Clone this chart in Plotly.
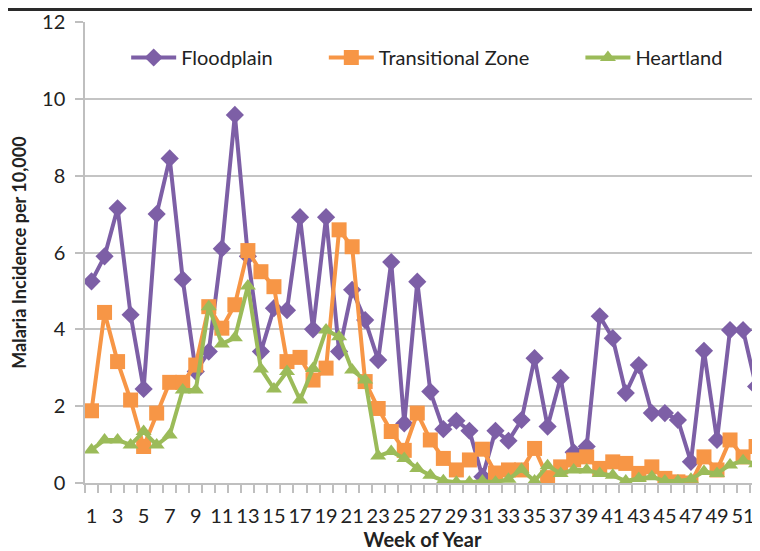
import plotly.graph_objects as go

weeks = list(range(1, 53))
week_labels = [str(w) for w in range(1, 53, 2)]
week_label_vals = list(range(1, 53, 2))

floodplain = [5.25, 5.9, 7.15, 4.38, 2.45, 7.0, 8.45, 5.3, 2.9, 3.42,
              6.1, 9.58, 5.9, 3.42, 4.55, 4.5, 6.92, 4.0, 6.92, 3.42,
              5.03, 4.24, 3.2, 5.75, 1.55, 5.24, 2.38, 1.4, 1.62, 1.36,
              0.16, 1.36, 1.1, 1.64, 3.25, 1.47, 2.74, 0.8, 0.95, 4.34,
              3.77, 2.34, 3.07, 1.82, 1.82, 1.64, 0.55, 3.44, 1.12, 3.98,
              3.98, 2.51]
transitional = [1.88, 4.44, 3.16, 2.16, 0.95, 1.82, 2.62, 2.62, 3.07, 4.59,
                4.03, 4.64, 6.05, 5.5, 5.11, 3.16, 3.27, 2.68, 2.99, 6.59,
                6.15, 2.64, 1.94, 1.34, 0.85, 1.82, 1.12, 0.64, 0.34, 0.6,
                0.88, 0.26, 0.34, 0.34, 0.9, 0.14, 0.42, 0.6, 0.68, 0.38,
                0.55, 0.51, 0.25, 0.42, 0.12, 0.03, 0.0, 0.68, 0.34, 1.12,
                0.68, 0.95]
heartland = [0.86, 1.12, 1.12, 0.99, 1.34, 0.99, 1.25, 2.42, 2.42, 4.59,
             3.62, 3.78, 5.13, 2.97, 2.45, 2.9, 2.16, 2.98, 3.98, 3.81,
             2.94, 2.68, 0.7, 0.82, 0.64, 0.38, 0.2, 0.06, 0.02, 0.02,
             0.05, 0.02, 0.1, 0.35, 0.05, 0.45, 0.25, 0.34, 0.34, 0.25,
             0.2, 0.05, 0.12, 0.16, 0.05, 0.05, 0.1, 0.3, 0.25, 0.47,
             0.58, 0.5]

FONT = "Lato, 'Open Sans', sans-serif"
PURPLE = "#7d5fa6"
ORANGE = "#f79646"
GREEN = "#9bbb59"
PAD = "\u00a0" * 9

fig = go.Figure()
fig.add_trace(go.Scatter(x=weeks, y=floodplain, name="Floodplain" + PAD, mode="lines+markers",
                         line=dict(color=PURPLE, width=4),
                         marker=dict(symbol="diamond", size=14, color=PURPLE)))
fig.add_trace(go.Scatter(x=weeks, y=transitional, name="Transitional Zone" + PAD, mode="lines+markers",
                         line=dict(color=ORANGE, width=4),
                         marker=dict(symbol="square", size=15, color=ORANGE)))
fig.add_trace(go.Scatter(x=weeks, y=heartland, name="Heartland", mode="lines+markers",
                         line=dict(color=GREEN, width=4),
                         marker=dict(symbol="triangle-up", size=14, color=GREEN)))

fig.update_layout(
    width=760, height=551,
    margin=dict(l=77, r=8, t=14, b=76),
    paper_bgcolor="white", plot_bgcolor="white",
    font=dict(family=FONT, size=20, color="#222222"),
    showlegend=True,
    legend=dict(orientation="h", x=0.061, y=0.923, xanchor="left", yanchor="middle",
                font=dict(family=FONT, size=20, color="#222222"),
                bgcolor="rgba(255,255,255,0)", itemwidth=45, traceorder="normal"),
    xaxis=dict(range=[0.5, 52.3], tickmode="array", tickvals=week_label_vals,
               ticktext=week_labels, ticks="", showgrid=False, zeroline=False,
               showline=True, linecolor="#bfbfbf", linewidth=1.5, automargin=False,
               tickfont=dict(family=FONT, size=20, color="#222222"),
               ticklabelstandoff=14,
               minor=dict(tickmode="linear", tick0=0.5, dtick=1, ticks="outside",
                          ticklen=8, tickcolor="#bfbfbf", tickwidth=1.5, showgrid=False),
               title=dict(text="<b>Week of Year</b>", font=dict(family=FONT, size=20, color="#222222"),
                          standoff=5)),
    yaxis=dict(range=[0, 12], tickmode="array", tickvals=[0, 2, 4, 6, 8, 10, 12],
               ticks="outside", ticklen=8, tickcolor="#bfbfbf", tickwidth=1.5,
               showgrid=True, gridcolor="#c4c4c4", gridwidth=1.5, zeroline=False,
               showline=True, linecolor="#bfbfbf", linewidth=1.5, automargin=False,
               tickfont=dict(family=FONT, size=20, color="#222222"),
               ticklabelstandoff=6,
               title=dict(text="<b>Malaria Incidence per 10,000</b>",
                          font=dict(family=FONT, size=18, color="#222222"), standoff=12)),
    shapes=[dict(type="rect", xref="paper", yref="paper", x0=-0.2, x1=1.1,
                 y0=1 + 11 / 461, y1=1 + 14 / 461, fillcolor="#2a2a2a", line=dict(width=0),
                 layer="above")],
)

fig.write_html("out.html")
